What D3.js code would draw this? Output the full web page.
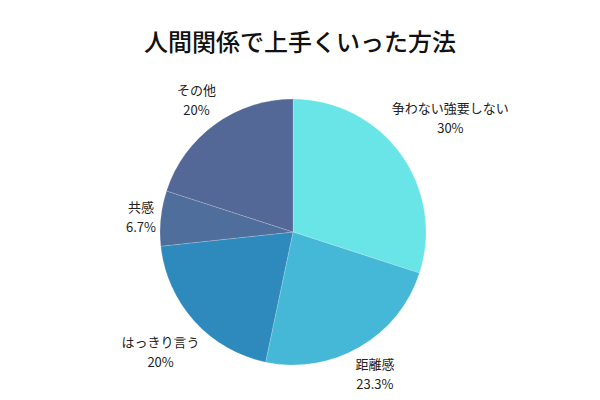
<!DOCTYPE html>
<meta charset="utf-8">
<script src="https://d3js.org/d3.v7.min.js"></script>
<style>
  body { margin: 0; background: #fff; }
  text { font-family: "Noto Sans CJK JP", "Noto Sans", sans-serif; }
</style>
<div id="my_dataviz"></div>
<script>
// data
var labels = ["争わない強要しない", "距離感", "はっきり言う", "共感", "その他"];
var values = [30, 23.3, 20, 6.7, 20];
var valueLabels = ["30%", "23.3%", "20%", "6.7%", "20%"];
var colors = ["#69e5e8", "#44b8d6", "#2e8abd", "#4f6e9b", "#536897"];

var width = 600, height = 400,
    cx = 293, cy = 232, radius = 133;

var svg = d3.select("#my_dataviz")
  .append("svg")
    .attr("width", width)
    .attr("height", height);

// title
svg.append("text")
    .attr("x", width / 2)
    .attr("y", 51)
    .attr("text-anchor", "middle")
    .style("font-size", "24px")
    .style("font-weight", "500")
    .style("fill", "#111")
    .text("人間関係で上手くいった方法");

var g = svg.append("g")
    .attr("transform", "translate(" + cx + "," + cy + ")");

var data = labels.map(function(d, i) { return {label: d, value: values[i], pct: valueLabels[i], color: colors[i]}; });

var pie = d3.pie().sort(null).value(function(d) { return d.value; });
var arc = d3.arc().innerRadius(0).outerRadius(radius);

var arcs = pie(data);

g.selectAll("path")
  .data(arcs)
  .enter()
  .append("path")
    .attr("d", arc)
    .attr("fill", function(d) { return d.data.color; })
    .attr("stroke", "rgba(255,255,255,0.3)")
    .attr("stroke-width", 0.6);

// labels: box centred on the slice's mid-angle ray, pushed out until
// its nearest point is a fixed distance from the pie centre
var gap = 137, lineH = 20;
var lab = g.selectAll("g.lab")
  .data(arcs)
  .enter()
  .append("g")
    .attr("class", "lab");

function nearest(x, y, w, h) {
  var nx = Math.max(x - w / 2, Math.min(0, x + w / 2));
  var ny = Math.max(y - h / 2, Math.min(0, y + h / 2));
  return Math.sqrt(nx * nx + ny * ny);
}

lab.each(function(d) {
  var sel = d3.select(this);
  var inner = sel.append("g");
  inner.append("text")
      .attr("text-anchor", "middle")
      .style("font-size", "13px")
      .style("fill", "#222")
      .text(d.data.label);
  inner.append("text")
      .attr("text-anchor", "middle")
      .attr("y", lineH)
      .style("font-size", "13px")
      .style("fill", "#222")
      .text(d.data.pct);
  var bb = inner.node().getBBox();
  var w = bb.width, h = bb.height;
  // centre the block on its own origin
  inner.attr("transform", "translate(0," + (-(bb.y + h / 2)) + ")");
  var a = (d.startAngle + d.endAngle) / 2;
  var s = Math.sin(a), c = -Math.cos(a);
  var lo = 0, hi = 400;
  for (var k = 0; k < 40; k++) {
    var mid = (lo + hi) / 2;
    if (nearest(mid * s, mid * c, w, h) < gap) lo = mid; else hi = mid;
  }
  sel.attr("transform", "translate(" + (lo * s) + "," + (lo * c) + ")");
});
</script>
